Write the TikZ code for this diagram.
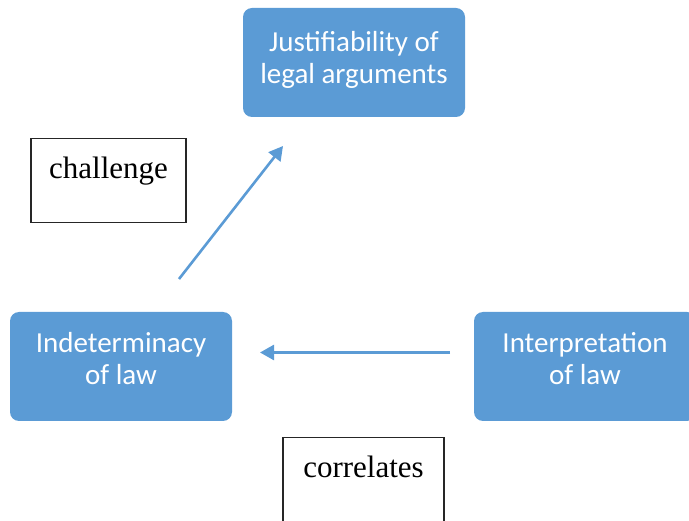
\documentclass[tikz,border=0pt]{standalone}
\usepackage{fontspec}
\setmainfont{Liberation Serif}
\newfontfamily\boxfont{Carlito}
\usetikzlibrary{positioning, arrows.meta}
\definecolor{boxblue}{HTML}{5B9BD5}

\begin{document}
\begin{tikzpicture}[x=1pt,y=-1pt,
		concept/.style={rectangle,rounded corners=9pt,fill=boxblue,text=white,
			minimum width=222pt,minimum height=109pt,align=center,text depth=16pt,
			font=\boxfont\fontsize{29}{32}\selectfont},
		tag/.style={draw=black!85,line width=1.2pt,anchor=north,inner sep=0pt,
			text height=40pt,text depth=44pt,font=\fontsize{31}{36}\selectfont},
		link/.style={draw=boxblue,line width=2.6pt,-{Triangle[length=14pt,width=15pt]}}]
			\useasboundingbox (0,0) rectangle (689,521);
			\node[concept,text depth=11pt] (just) at (354,62.5)	{Justifiability of\\legal arguments};
			\node[concept] (indet) at (121,366.5)	{Indeterminacy\\of law};
			\node[concept] (interp) at (585,366.5)	{Interpretation\\of law};
			\node[tag,minimum width=155pt] (challenge) at (108.5,138)	{challenge};
			\node[tag,minimum width=161pt] (correlates) at (363.5,437)	{correlates};
			% free ends of the two arrows
			\coordinate (c1) at (179,279);
			\coordinate (c2) at (283,146);
			\coordinate (c3) at (450,352.5);
			\coordinate (c4) at (260,352.5);
			\path[link] (c1) -- (c2);
			\path[link] (c3) -- (c4);
\end{tikzpicture}
\end{document}
